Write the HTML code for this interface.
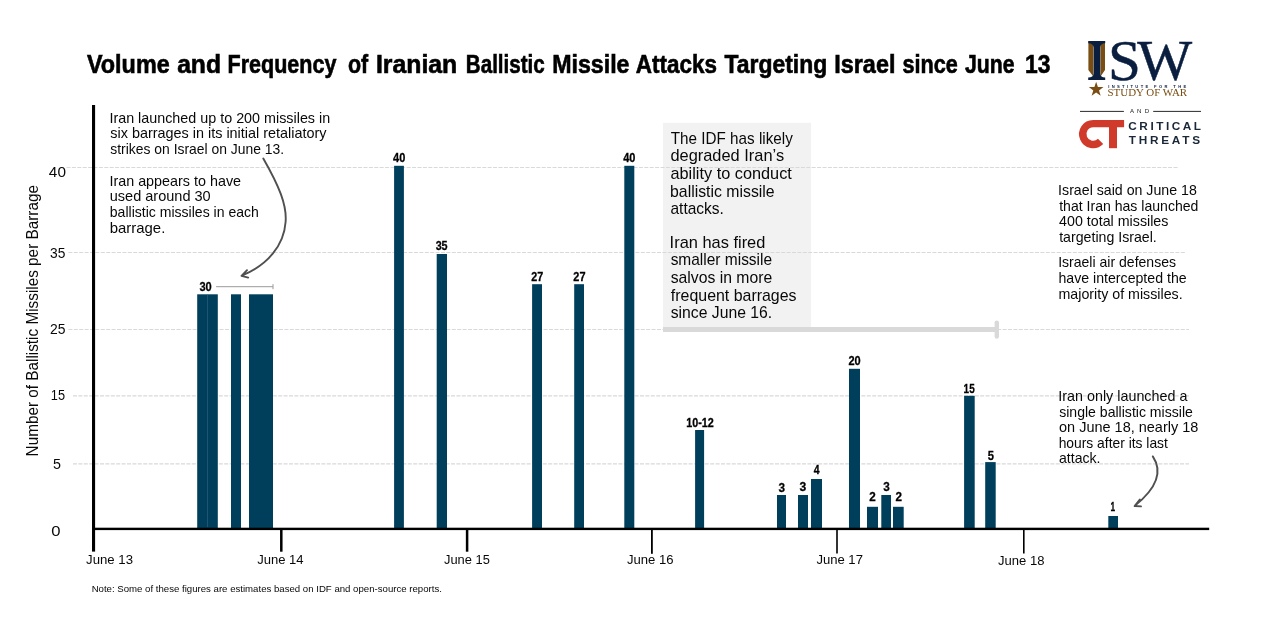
<!DOCTYPE html>
<html lang="en"><head><meta charset="utf-8"><title>Volume and Frequency of Iranian Ballistic Missile Attacks Targeting Israel since June 13</title>
<style>
html,body{margin:0;padding:0;background:#fff;}
body{width:1268px;height:620px;overflow:hidden;}
svg{display:block;font-family:"Liberation Sans",sans-serif;fill:#080808;}
.b{font-weight:bold}
.serif{font-family:"Liberation Serif",serif}
</style></head><body>
<svg width="1268" height="620" viewBox="0 0 1268 620">
<rect width="1268" height="620" fill="#fff"/>
<text y="72.9" font-size="25.2" class="b" fill="#000" stroke="#000" stroke-width="0.6"><tspan x="86.98" textLength="82.7" lengthAdjust="spacingAndGlyphs">Volume</tspan> <tspan x="177.16" textLength="43.81" lengthAdjust="spacingAndGlyphs">and</tspan> <tspan x="227.5" textLength="108.86" lengthAdjust="spacingAndGlyphs">Frequency</tspan> <tspan x="347.94" textLength="20.23" lengthAdjust="spacingAndGlyphs">of</tspan> <tspan x="375.99" textLength="81.27" lengthAdjust="spacingAndGlyphs">Iranian</tspan> <tspan x="465.86" textLength="78.85" lengthAdjust="spacingAndGlyphs">Ballistic</tspan> <tspan x="552.19" textLength="77.32" lengthAdjust="spacingAndGlyphs">Missile</tspan> <tspan x="635.84" textLength="81.02" lengthAdjust="spacingAndGlyphs">Attacks</tspan> <tspan x="724.47" textLength="102.76" lengthAdjust="spacingAndGlyphs">Targeting</tspan> <tspan x="834.28" textLength="61.12" lengthAdjust="spacingAndGlyphs">Israel</tspan> <tspan x="902.44" textLength="55.36" lengthAdjust="spacingAndGlyphs">since</tspan> <tspan x="964.98" textLength="49.54" lengthAdjust="spacingAndGlyphs">June</tspan> <tspan x="1025.03" textLength="25.42" lengthAdjust="spacingAndGlyphs">13</tspan></text>
<rect x="663" y="122.8" width="148.1" height="205" fill="#f2f2f2"/>
<rect x="663" y="327" width="333.5" height="5" fill="#d9d9d9"/>
<rect x="994.6" y="320.4" width="4.4" height="18.4" rx="2.2" fill="#d9d9d9"/>
<line x1="66.5" y1="167.5" x2="1179" y2="167.5" stroke="#d9d9d9" stroke-width="1" stroke-dasharray="4 1.4"/>
<line x1="68.4" y1="252.5" x2="1185" y2="252.5" stroke="#d9d9d9" stroke-width="1" stroke-dasharray="4 1.4"/>
<line x1="68.4" y1="329.5" x2="1189" y2="329.5" stroke="#d9d9d9" stroke-width="1" stroke-dasharray="4 1.4"/>
<line x1="73" y1="395.95" x2="1189" y2="395.95" stroke="#d9d9d9" stroke-width="1.3" stroke-dasharray="4 1.4"/>
<line x1="73" y1="463.95" x2="1189" y2="463.95" stroke="#d9d9d9" stroke-width="1.3" stroke-dasharray="4 1.4"/>
<rect x="197.2" y="294.3" width="20.6" height="235.3" fill="#003f5c"/>
<rect x="231" y="294.3" width="10" height="235.3" fill="#003f5c"/>
<rect x="249" y="294.3" width="24" height="235.3" fill="#003f5c"/>
<rect x="394.1" y="165.8" width="9.8" height="363.8" fill="#003f5c"/>
<rect x="436.7" y="254" width="10.3" height="275.6" fill="#003f5c"/>
<rect x="532.1" y="284.2" width="9.9" height="245.4" fill="#003f5c"/>
<rect x="574.2" y="284.2" width="9.8" height="245.4" fill="#003f5c"/>
<rect x="624.3" y="165.8" width="10.0" height="363.8" fill="#003f5c"/>
<rect x="695.1" y="430" width="9.0" height="99.6" fill="#003f5c"/>
<rect x="777" y="495" width="9" height="34.6" fill="#003f5c"/>
<rect x="798" y="495" width="10" height="34.6" fill="#003f5c"/>
<rect x="811" y="479" width="11" height="50.6" fill="#003f5c"/>
<rect x="849" y="368.8" width="11" height="160.8" fill="#003f5c"/>
<rect x="867" y="506.8" width="11" height="22.8" fill="#003f5c"/>
<rect x="881.3" y="495" width="9.7" height="34.6" fill="#003f5c"/>
<rect x="893" y="506.8" width="10.7" height="22.8" fill="#003f5c"/>
<rect x="964.1" y="395.8" width="10.6" height="133.8" fill="#003f5c"/>
<rect x="985.2" y="462.1" width="10.5" height="67.5" fill="#003f5c"/>
<rect x="1108.3" y="516" width="9.7" height="13.6" fill="#003f5c"/>
<rect x="207.3" y="294.3" width="0.5" height="233" fill="#3b6f88"/>
<rect x="92" y="105" width="3.1" height="446.6" fill="#000"/>
<rect x="92" y="527.7" width="1117.2" height="2.4" fill="#000"/>
<rect x="280.05" y="529" width="2.5" height="22.7" fill="#000"/>
<rect x="465.85" y="529" width="2.5" height="22.7" fill="#000"/>
<rect x="651.0" y="529" width="1.8" height="24.8" fill="#000"/>
<rect x="836.2" y="529" width="1.6" height="24.5" fill="#000"/>
<rect x="1023.0" y="529" width="1.6" height="24.5" fill="#000"/>
<text x="48.89" y="177.2" font-size="14.1" textLength="17.08" lengthAdjust="spacingAndGlyphs">40</text>
<text x="50.05" y="257.6" font-size="14.1" textLength="15.34" lengthAdjust="spacingAndGlyphs">35</text>
<text x="49.9" y="334" font-size="14.1" textLength="15.49" lengthAdjust="spacingAndGlyphs">25</text>
<text x="50.84" y="400" font-size="14.1" textLength="14.2" lengthAdjust="spacingAndGlyphs">15</text>
<text x="52.93" y="468.5" font-size="14.1" textLength="7.96" lengthAdjust="spacingAndGlyphs">5</text>
<text x="51.33" y="536" font-size="14.1" textLength="9.27" lengthAdjust="spacingAndGlyphs">0</text>
<text x="86.1" y="563.6" font-size="13.2" textLength="46.91" lengthAdjust="spacingAndGlyphs">June 13</text>
<text x="257.2" y="563.6" font-size="13.2" textLength="46.37" lengthAdjust="spacingAndGlyphs">June 14</text>
<text x="444.01" y="563.8" font-size="13.2" textLength="45.79" lengthAdjust="spacingAndGlyphs">June 15</text>
<text x="626.9" y="563.8" font-size="13.2" textLength="46.6" lengthAdjust="spacingAndGlyphs">June 16</text>
<text x="816.4" y="563.8" font-size="13.2" textLength="46.53" lengthAdjust="spacingAndGlyphs">June 17</text>
<text x="998.1" y="564.9" font-size="13.2" textLength="46.4" lengthAdjust="spacingAndGlyphs">June 18</text>
<text x="199.42" y="290.8" font-size="13.4" textLength="12.35" lengthAdjust="spacingAndGlyphs" class="b" fill="#000" stroke="#000" stroke-width="0.3">30</text>
<text x="393.04" y="161.9" font-size="13.4" textLength="12.23" lengthAdjust="spacingAndGlyphs" class="b" fill="#000" stroke="#000" stroke-width="0.3">40</text>
<text x="435.63" y="250.2" font-size="13.4" textLength="11.96" lengthAdjust="spacingAndGlyphs" class="b" fill="#000" stroke="#000" stroke-width="0.3">35</text>
<text x="531.32" y="280.9" font-size="13.4" textLength="11.93" lengthAdjust="spacingAndGlyphs" class="b" fill="#000" stroke="#000" stroke-width="0.3">27</text>
<text x="573.32" y="280.9" font-size="13.4" textLength="12.14" lengthAdjust="spacingAndGlyphs" class="b" fill="#000" stroke="#000" stroke-width="0.3">27</text>
<text x="623.24" y="161.9" font-size="13.4" textLength="12.23" lengthAdjust="spacingAndGlyphs" class="b" fill="#000" stroke="#000" stroke-width="0.3">40</text>
<text x="686.25" y="426.8" font-size="13.4" textLength="27.61" lengthAdjust="spacingAndGlyphs" class="b" fill="#000" stroke="#000" stroke-width="0.3">10-12</text>
<text x="778.41" y="491.8" font-size="13.4" textLength="6.52" lengthAdjust="spacingAndGlyphs" class="b" fill="#000" stroke="#000" stroke-width="0.3">3</text>
<text x="799.5" y="491.0" font-size="13.4" textLength="6.74" lengthAdjust="spacingAndGlyphs" class="b" fill="#000" stroke="#000" stroke-width="0.3">3</text>
<text x="813.74" y="474" font-size="13.4" textLength="5.82" lengthAdjust="spacingAndGlyphs" class="b" fill="#000" stroke="#000" stroke-width="0.3">4</text>
<text x="848.41" y="365" font-size="13.4" textLength="12.25" lengthAdjust="spacingAndGlyphs" class="b" fill="#000" stroke="#000" stroke-width="0.3">20</text>
<text x="869.29" y="500.8" font-size="13.4" textLength="6.49" lengthAdjust="spacingAndGlyphs" class="b" fill="#000" stroke="#000" stroke-width="0.3">2</text>
<text x="883.31" y="491" font-size="13.4" textLength="6.52" lengthAdjust="spacingAndGlyphs" class="b" fill="#000" stroke="#000" stroke-width="0.3">3</text>
<text x="895.39" y="500.8" font-size="13.4" textLength="6.49" lengthAdjust="spacingAndGlyphs" class="b" fill="#000" stroke="#000" stroke-width="0.3">2</text>
<text x="963.6" y="392.7" font-size="13.4" textLength="11.07" lengthAdjust="spacingAndGlyphs" class="b" fill="#000" stroke="#000" stroke-width="0.3">15</text>
<text x="987.66" y="460" font-size="13.4" textLength="6.23" lengthAdjust="spacingAndGlyphs" class="b" fill="#000" stroke="#000" stroke-width="0.3">5</text>
<text x="1110.4" y="511.1" font-size="13.4" textLength="4.62" lengthAdjust="spacingAndGlyphs" class="b" fill="#000" stroke="#000" stroke-width="0.3">1</text>
<g transform="translate(37.5 455.2) rotate(-90)"><text x="-1.22" y="0" font-size="15.8" textLength="271.37" lengthAdjust="spacingAndGlyphs">Number of Ballistic Missiles per Barrage</text></g>
<text x="91.63" y="592" font-size="9.8" textLength="350.27" lengthAdjust="spacingAndGlyphs">Note: Some of these figures are estimates based on IDF and open-source reports.</text>
<text x="109.41" y="122.6" font-size="14.4" textLength="220.77" lengthAdjust="spacingAndGlyphs">Iran launched up to 200 missiles in</text>
<text x="110.27" y="138.3" font-size="14.4" textLength="216.25" lengthAdjust="spacingAndGlyphs">six barrages in its initial retaliatory</text>
<text x="110.28" y="153.7" font-size="14.4" textLength="173.9" lengthAdjust="spacingAndGlyphs">strikes on Israel on June 13.</text>
<text x="109.41" y="185.7" font-size="14.4" textLength="131.68" lengthAdjust="spacingAndGlyphs">Iran appears to have</text>
<text x="109.76" y="201.4" font-size="14.4" textLength="100.96" lengthAdjust="spacingAndGlyphs">used around 30</text>
<text x="109.79" y="217.3" font-size="14.4" textLength="149.13" lengthAdjust="spacingAndGlyphs">ballistic missiles in each</text>
<text x="109.73" y="232.8" font-size="14.4" textLength="55.58" lengthAdjust="spacingAndGlyphs">barrage.</text>
<path d="M216.1 286.7H273M273 284.2V289.2" stroke="#9a9a9a" stroke-width="1" fill="none"/>
<path d="M263.3 158.5C279 186 287 205 285.6 222C284 245 268 265 241.8 275.6M247 270.2L241.5 275.8L248.2 277.6" stroke="#505050" stroke-width="1.9" fill="none" stroke-linecap="round" stroke-linejoin="round"/>
<text x="670.8" y="143.8" font-size="16.2" textLength="121.97" lengthAdjust="spacingAndGlyphs">The IDF has likely</text>
<text x="670.44" y="161.3" font-size="16.2" textLength="113.65" lengthAdjust="spacingAndGlyphs">degraded Iran’s</text>
<text x="670.45" y="179.2" font-size="16.2" textLength="121.4" lengthAdjust="spacingAndGlyphs">ability to conduct</text>
<text x="670.07" y="196.6" font-size="16.2" textLength="104.58" lengthAdjust="spacingAndGlyphs">ballistic missile</text>
<text x="670.48" y="214.2" font-size="16.2" textLength="53.43" lengthAdjust="spacingAndGlyphs">attacks.</text>
<text x="669.62" y="247.6" font-size="16.2" textLength="95.77" lengthAdjust="spacingAndGlyphs">Iran has fired</text>
<text x="670.64" y="265.4" font-size="16.2" textLength="101.48" lengthAdjust="spacingAndGlyphs">smaller missile</text>
<text x="670.63" y="282.8" font-size="16.2" textLength="101.51" lengthAdjust="spacingAndGlyphs">salvos in more</text>
<text x="670.86" y="300.6" font-size="16.2" textLength="125.68" lengthAdjust="spacingAndGlyphs">frequent barrages</text>
<text x="670.63" y="318.4" font-size="16.2" textLength="101.55" lengthAdjust="spacingAndGlyphs">since June 16.</text>
<text x="1058.12" y="194.8" font-size="14.4" textLength="138.73" lengthAdjust="spacingAndGlyphs">Israel said on June 18</text>
<text x="1059.19" y="210.6" font-size="14.4" textLength="139.24" lengthAdjust="spacingAndGlyphs">that Iran has launched</text>
<text x="1059.12" y="226.3" font-size="14.4" textLength="109.28" lengthAdjust="spacingAndGlyphs">400 total missiles</text>
<text x="1059.19" y="241.8" font-size="14.4" textLength="97.63" lengthAdjust="spacingAndGlyphs">targeting Israel.</text>
<text x="1058.14" y="267.1" font-size="14.4" textLength="117.93" lengthAdjust="spacingAndGlyphs">Israeli air defenses</text>
<text x="1058.41" y="282.8" font-size="14.4" textLength="128.26" lengthAdjust="spacingAndGlyphs">have intercepted the</text>
<text x="1058.47" y="298.6" font-size="14.4" textLength="124.16" lengthAdjust="spacingAndGlyphs">majority of missiles.</text>
<text x="1058.31" y="401" font-size="14.4" textLength="129.11" lengthAdjust="spacingAndGlyphs">Iran only launched a</text>
<text x="1059.18" y="416.6" font-size="14.4" textLength="133.7" lengthAdjust="spacingAndGlyphs">single ballistic missile</text>
<text x="1059.02" y="432" font-size="14.4" textLength="139.31" lengthAdjust="spacingAndGlyphs">on June 18, nearly 18</text>
<text x="1058.63" y="447.5" font-size="14.4" textLength="109.27" lengthAdjust="spacingAndGlyphs">hours after its last</text>
<text x="1059.04" y="462.5" font-size="14.4" textLength="41.44" lengthAdjust="spacingAndGlyphs">attack.</text>
<path d="M1152.8 456.4C1160.5 468 1162 484 1134.8 505.8M1139.8 499.6L1134.6 506L1141 506.4" stroke="#505050" stroke-width="1.9" fill="none" stroke-linecap="round" stroke-linejoin="round"/>
<path d="M1088.4 42.5H1093.35V76.4L1088.4 70.1ZM1100.5 42.5H1105V70.1L1100.5 76.4Z" fill="#7a4d12"/>
<path d="M1088.2 41.1H1105.2V43.2C1102 43.4 1100.3 44.6 1100.3 47.5V73.2C1100.3 76.2 1102 77.4 1105.2 77.6V79.9H1088.2V77.6C1091.6 77.4 1093.6 76.2 1093.6 73.2V47.5C1093.6 44.6 1091.6 43.4 1088.2 43.2Z" fill="#0a1f3f"/>
<text y="79.5" font-size="57.5" class="serif" fill="#0a1f3f" stroke="#0a1f3f" stroke-width="0.5"><tspan x="1107.96" textLength="32.85" lengthAdjust="spacingAndGlyphs">S</tspan><tspan x="1137.2" textLength="54.92" lengthAdjust="spacingAndGlyphs">W</tspan></text>
<path d="M1096.15 81.80L1097.91 87.07L1103.47 87.12L1099.00 90.43L1100.68 95.73L1096.15 92.50L1091.62 95.73L1093.30 90.43L1088.83 87.12L1094.39 87.07Z" fill="#7a4d12"/>
<text x="1108.13" y="87.8" font-size="4.1" letter-spacing="2.369" class="b" fill="#0a1f3f">INSTITUTE FOR THE</text>
<text x="1107.49" y="95.8" font-size="9.4" textLength="79.65" lengthAdjust="spacingAndGlyphs" class="serif" fill="#7a4d12">STUDY OF WAR</text>
<path d="M1080 111.4H1123.9M1153.2 111.4H1201" stroke="#111" stroke-width="0.9"/>
<text x="1129.9" y="112.8" font-size="6.1" letter-spacing="3.152" fill="#222">AND</text>
<path d="M1124.1 123.6H1093.2A10.45 10.45 0 1 0 1100.6 141.4" stroke="#d03a2b" stroke-width="7.4" fill="none"/>
<rect x="1109" y="120" width="8" height="28.2" fill="#d03a2b"/>
<text x="1128.33" y="129.8" font-size="11.8" letter-spacing="2.511" class="b" fill="#1b2838">CRITICAL</text>
<text x="1128.68" y="143.8" font-size="11.8" letter-spacing="2.753" class="b" fill="#1b2838">THREATS</text>
</svg></body></html>
